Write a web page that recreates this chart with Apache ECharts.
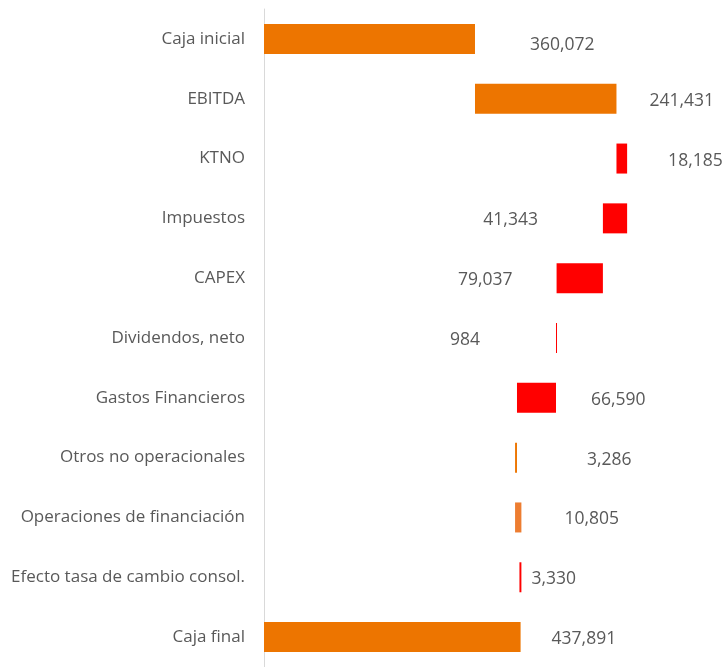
<!DOCTYPE html>
<html>
<head>
<meta charset="utf-8">
<script src="https://cdn.jsdelivr.net/npm/echarts@6/dist/echarts.min.js"></script>
<style>
  html, body { margin: 0; padding: 0; background: #fff; }
  #chart { width: 722px; height: 667px; }
</style>
</head>
<body>
<div id="chart"></div>
<script>
// categorias del flujo de caja
const categories = [
  'Caja inicial', 'EBITDA', 'KTNO', 'Impuestos', 'CAPEX', 'Dividendos, neto',
  'Gastos Financieros', 'Otros no operacionales', 'Operaciones de financiación',
  'Efecto tasa de cambio consol.', 'Caja final'
];
// variaciones con signo (los totales se dibujan desde cero)
const values = [360072, 241431, 18185, -41343, -79037, -984, -66590, -3286, 10805, -3330, 437891];
const isTotal = [true, false, false, false, false, false, false, false, false, false, true];

// estilos por barra
const barColors = ['#ED7500', '#ED7500', '#FF0000', '#FF0000', '#FF0000', '#FF0000',
  '#FF0000', '#ED7500', '#ED7D31', '#FF0000', '#ED7500'];
const labelPos = [
  { position: 'right', distance: 55, offset: [0, 6] },
  { position: 'right', distance: 33 },
  { position: 'right', distance: 41 },
  { position: 'left', distance: 65 },
  { position: 'left', distance: 44 },
  { position: 'left', distance: 76 },
  { position: 'right', distance: 35 },
  { position: 'right', distance: 70 },
  { position: 'right', distance: 43 },
  { position: 'right', distance: 10 },
  { position: 'right', distance: 31 }
];

// construir base invisible + tramo visible
const baseData = [];
const deltaData = [];
let running = 0;
values.forEach((v, i) => {
  if (isTotal[i]) {
    baseData.push(0);
    deltaData.push(v);
    running = v;
  } else {
    const next = running + v;
    baseData.push(Math.min(running, next));
    deltaData.push(Math.abs(v));
    running = next;
  }
});

const chart = echarts.init(document.getElementById('chart'));

const option = {
  animation: false,
  grid: { left: 264, right: 0, top: 9, height: 660 },
  xAxis: {
    type: 'value',
    min: 0,
    max: 781600,
    show: false
  },
  yAxis: {
    type: 'category',
    data: categories,
    inverse: true,
    axisLine: { show: true, lineStyle: { color: '#D9D9D9', width: 1 } },
    axisTick: { show: false },
    axisLabel: {
      color: '#595959',
      fontSize: 17,
      fontFamily: 'Open Sans',
      margin: 19,
      padding: [4, 0, 0, 0]
    }
  },
  series: [
    {
      name: 'base',
      type: 'bar',
      stack: 'w',
      data: baseData,
      barWidth: 30,
      itemStyle: { color: 'transparent' },
      silent: true
    },
    {
      name: 'valor',
      type: 'bar',
      stack: 'w',
      barWidth: 30,
      barMinHeight: 1,
      data: deltaData.map((d, i) => ({
        value: d,
        itemStyle: { color: barColors[i] },
        label: Object.assign({
          show: true,
          color: '#595959',
          fontSize: 17.5,
          fontFamily: 'Open Sans',
          offset: [0, 2],
          formatter: () => Math.abs(values[i]).toLocaleString('en-US')
        }, labelPos[i])
      }))
    }
  ]
};

chart.setOption(option);
</script>
</body>
</html>
